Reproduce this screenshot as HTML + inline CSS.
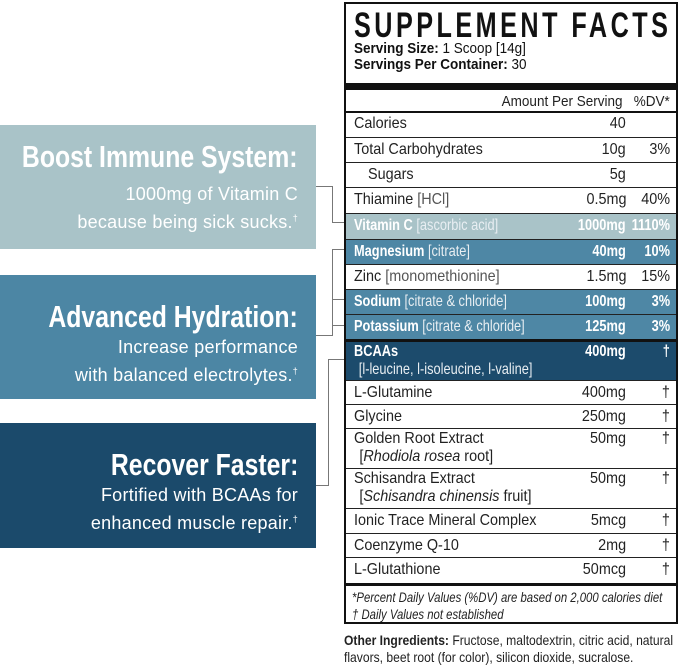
<!DOCTYPE html>
<html><head><meta charset="utf-8"><style>
*{margin:0;padding:0;box-sizing:border-box}
body{width:679px;height:667px;background:#fff;position:relative;overflow:hidden;font-family:"Liberation Sans Narrow","Liberation Sans",sans-serif;color:#222}
.box{position:absolute;left:0;width:316px;color:#fff;text-align:right}
.bt{font-weight:bold;font-size:31px;position:absolute;right:18px;white-space:nowrap;transform:scaleX(0.8);transform-origin:right center}
.bs{font-size:18px;position:absolute;right:18px;white-space:nowrap;line-height:24px;letter-spacing:0.25px}
.ln{position:absolute;background:#777}
.tbl{position:absolute;left:344px;top:2px;width:334px;height:622px;border:2px solid #111;overflow:hidden}
.row{position:absolute;left:0;width:330px;border-top:1px solid #222;font-size:16px}
.row .l{position:absolute;left:8px;top:3px;white-space:nowrap;transform:scaleX(0.9);transform-origin:left top}
.row .a{position:absolute;right:50px;top:3px;white-space:nowrap;transform:scaleX(0.9);transform-origin:right top}
.row .d{position:absolute;right:6px;top:3px;white-space:nowrap;transform:scaleX(0.9);transform-origin:right top}
.g{color:#555}
.w{color:#fff;font-weight:bold}
.w .l,.w .a,.w .d{transform:scaleX(0.8)}
.w .g{color:#e8eef2;font-weight:normal}
</style></head><body>

<div class="box" style="top:125px;height:124px;background:#a9c3c8">
<div class="bt" style="top:14px">Boost Immune System:</div>
<div class="bs" style="top:57px">1000mg of Vitamin C</div>
<div class="bs" style="top:81px">because being sick sucks.<sup style="font-size:9px">†</sup></div>
</div>
<div class="box" style="top:275px;height:124px;background:#4c86a4">
<div class="bt" style="top:24px">Advanced Hydration:</div>
<div class="bs" style="top:60px">Increase performance</div>
<div class="bs" style="top:84px">with balanced electrolytes.<sup style="font-size:9px">†</sup></div>
</div>
<div class="box" style="top:423px;height:125px;background:#1b4a6b">
<div class="bt" style="top:24px">Recover Faster:</div>
<div class="bs" style="top:60px">Fortified with BCAAs for</div>
<div class="bs" style="top:84px">enhanced muscle repair.<sup style="font-size:9px">†</sup></div>
</div>

<div class="ln" style="left:316px;top:186px;width:17px;height:1px"></div>
<div class="ln" style="left:332px;top:186px;width:1px;height:37px"></div>
<div class="ln" style="left:332px;top:222px;width:13px;height:1px"></div>

<div class="ln" style="left:316px;top:335px;width:17px;height:1px"></div>
<div class="ln" style="left:332px;top:249px;width:1px;height:87px"></div>
<div class="ln" style="left:332px;top:249px;width:13px;height:1px"></div>
<div class="ln" style="left:332px;top:299px;width:13px;height:1px"></div>
<div class="ln" style="left:332px;top:325px;width:13px;height:1px"></div>

<div class="ln" style="left:316px;top:485px;width:13px;height:1px"></div>
<div class="ln" style="left:328px;top:359px;width:1px;height:127px"></div>
<div class="ln" style="left:328px;top:359px;width:17px;height:1px"></div>

<div class="tbl">
<svg style="position:absolute;left:0;top:0" width="330" height="40"><g transform="translate(8,33) scale(0.72,1)"><text x="0" y="0" font-family="Liberation Sans" font-weight="bold" font-size="35" fill="#111" textLength="436" lengthAdjust="spacing">SUPPLEMENT FACTS</text></g></svg>
<div style="position:absolute;left:8px;top:37px;font-size:15px;line-height:16px;color:#111;white-space:nowrap;transform:scaleX(0.9);transform-origin:left top"><b>Serving Size:</b> 1 Scoop [14g]<br><b>Servings Per Container:</b> 30</div>
<div style="position:absolute;left:0;top:79px;width:330px;height:7px;background:#111"></div>
<div style="position:absolute;right:6px;top:89px;font-size:15px;white-space:nowrap;transform:scaleX(0.9);transform-origin:right top">Amount Per Serving&nbsp;&nbsp; %DV*</div>
<div style="position:absolute;left:0;top:107px;width:330px;height:2px;background:#111"></div>

<div class="row" style="top:108px;height:25px;border-top:none"><span class="l">Calories</span><span class="a">40</span></div>
<div class="row" style="top:133px;height:25px"><span class="l">Total Carbohydrates</span><span class="a">10g</span><span class="d">3%</span></div>
<div class="row" style="top:158px;height:25px"><span class="l" style="left:22px">Sugars</span><span class="a">5g</span></div>
<div class="row" style="top:183px;height:26px"><span class="l">Thiamine <span class="g">[HCl]</span></span><span class="a">0.5mg</span><span class="d">40%</span></div>
<div class="row w" style="top:209px;height:26px;background:#a9c3c8"><span class="l">Vitamin C <span class="g">[ascorbic acid]</span></span><span class="a">1000mg</span><span class="d">1110%</span></div>
<div class="row w" style="top:235px;height:25px;background:#4e87a5"><span class="l">Magnesium <span class="g">[citrate]</span></span><span class="a">40mg</span><span class="d">10%</span></div>
<div class="row" style="top:260px;height:25px"><span class="l">Zinc <span class="g">[monomethionine]</span></span><span class="a">1.5mg</span><span class="d">15%</span></div>
<div class="row w" style="top:285px;height:25px;background:#4e87a5"><span class="l">Sodium <span class="g">[citrate &amp; chloride]</span></span><span class="a">100mg</span><span class="d">3%</span></div>
<div class="row w" style="top:310px;height:25px;background:#4e87a5"><span class="l">Potassium <span class="g">[citrate &amp; chloride]</span></span><span class="a">125mg</span><span class="d">3%</span></div>
<div style="position:absolute;left:0;top:335px;width:330px;height:3px;background:#111"></div>
<div class="row w" style="top:338px;height:38px;background:#1c4b6c;border-top:none"><span class="l" style="top:1px">BCAAs<br><span class="g" style="padding-left:6px">[l-leucine, l-isoleucine, l-valine]</span></span><span class="a" style="top:1px">400mg</span><span class="d" style="top:1px">†</span></div>
<div class="row" style="top:376px;height:24px"><span class="l">L-Glutamine</span><span class="a">400mg</span><span class="d">†</span></div>
<div class="row" style="top:400px;height:24px"><span class="l">Glycine</span><span class="a">250mg</span><span class="d">†</span></div>
<div class="row" style="top:424px;height:40px"><span class="l" style="top:1px;line-height:18px">Golden Root Extract<br><span style="padding-left:6px">[<i>Rhodiola rosea</i> root]</span></span><span class="a" style="top:1px">50mg</span><span class="d" style="top:1px">†</span></div>
<div class="row" style="top:464px;height:40px"><span class="l" style="top:1px;line-height:18px">Schisandra Extract<br><span style="padding-left:6px">[<i>Schisandra chinensis</i> fruit]</span></span><span class="a" style="top:1px">50mg</span><span class="d" style="top:1px">†</span></div>
<div class="row" style="top:504px;height:25px"><span class="l">Ionic Trace Mineral Complex</span><span class="a">5mcg</span><span class="d">†</span></div>
<div class="row" style="top:529px;height:24px"><span class="l">Coenzyme Q-10</span><span class="a">2mg</span><span class="d">†</span></div>
<div class="row" style="top:553px;height:26px"><span class="l">L-Glutathione</span><span class="a">50mcg</span><span class="d">†</span></div>
<div style="position:absolute;left:0;top:579px;width:330px;height:3px;background:#111"></div>
<div style="position:absolute;left:6px;top:585px;font-size:14px;font-style:italic;line-height:17px;white-space:nowrap;transform:scaleX(0.81);transform-origin:left top">*Percent Daily Values (%DV) are based on 2,000 calories diet<br>† Daily Values not established</div>
</div>

<div style="position:absolute;left:344px;top:632px;font-size:14px;line-height:17px;white-space:nowrap;transform:scaleX(0.865);transform-origin:left top"><b>Other Ingredients:</b> Fructose, maltodextrin, citric acid, natural<br>flavors, beet root (for color), silicon dioxide, sucralose.</div>
</body></html>
